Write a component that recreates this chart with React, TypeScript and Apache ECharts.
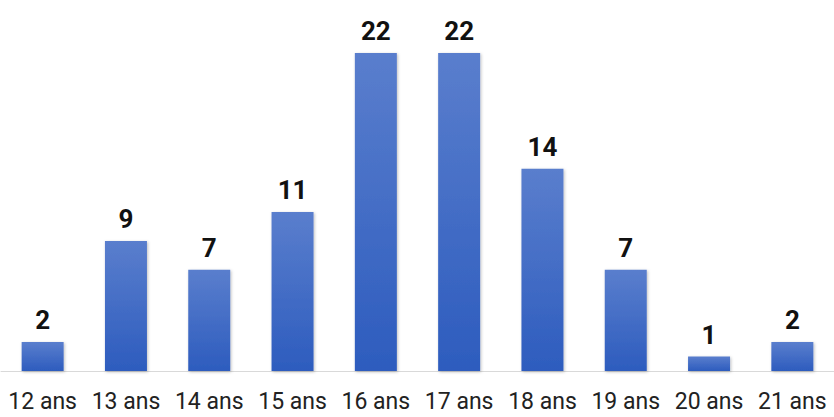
import React, { useEffect, useRef } from "react";
import * as echarts from "echarts";

const categories = ["12 ans", "13 ans", "14 ans", "15 ans", "16 ans", "17 ans", "18 ans", "19 ans", "20 ans", "21 ans"];
const values = [2, 9, 7, 11, 22, 22, 14, 7, 1, 2];

export default function App() {
  const ref = useRef<HTMLDivElement>(null);
  useEffect(() => {
    if (!ref.current) return;
    const chart = echarts.init(ref.current, null, { renderer: "svg" });
    chart.setOption({
      animation: false,
      backgroundColor: "#ffffff",
      grid: { left: 1, right: -2, top: 53, bottom: 46 },
      xAxis: {
        type: "category",
        data: categories,
        axisLine: { lineStyle: { color: "#d9d9d9", width: 1 } },
        axisTick: { show: false },
        axisLabel: {
          interval: 0,
          hideOverlap: false,
          color: "#222222",
          fontFamily: "Roboto",
          fontSize: 23,
          margin: 19,
        },
      },
      yAxis: {
        type: "value",
        min: 0,
        max: 22,
        show: false,
        splitLine: { show: false },
      },
      series: [
        {
          type: "bar",
          data: values,
          barWidth: 42,
          itemStyle: {
            color: new echarts.graphic.LinearGradient(0, 0, 0, 1, [
              { offset: 0, color: "#5a7ecd" },
              { offset: 1, color: "#2d5cbe" },
            ]),
            shadowColor: "rgba(0,0,0,0.25)",
            shadowBlur: 3,
            shadowOffsetX: 1,
            shadowOffsetY: 1,
          },
          label: {
            show: true,
            position: "top",
            distance: 9,
            color: "#111111",
            fontFamily: "Roboto",
            fontWeight: "bold",
            fontSize: 26,
          },
        },
      ],
    });
    return () => chart.dispose();
  }, []);
  return (
    <div
      ref={ref}
      style={{ position: "absolute", left: 0, top: 0, width: 834, height: 417 }}
    />
  );
}
